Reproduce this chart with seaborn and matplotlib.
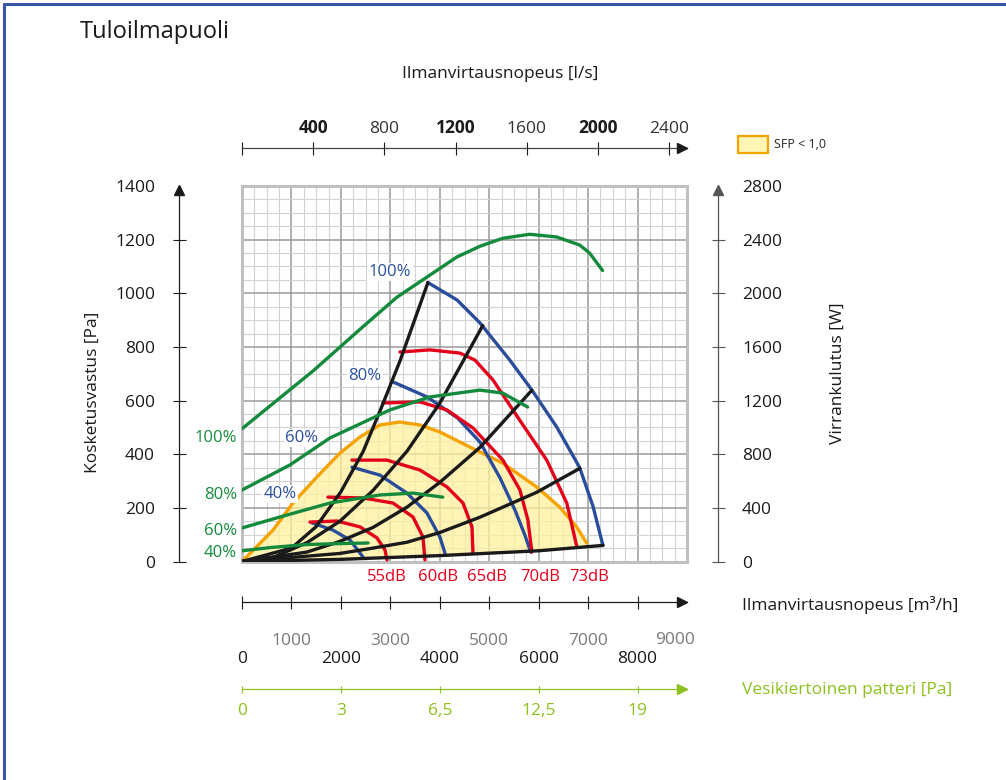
import numpy as np
import matplotlib
matplotlib.use("Agg")
import matplotlib.pyplot as plt
import seaborn as sns
from matplotlib.lines import Line2D
from matplotlib.patches import Patch, Rectangle
from matplotlib.ticker import MultipleLocator

sns.set_theme(style="white")
plt.rcParams["font.family"] = ["Open Sans", "DejaVu Sans"]

# ---- values (airflow m3/h, pressure Pa, power W) ----
# system curves (black)
sys1_x = [0, 1000, 1500, 2000, 2450, 2800, 3200, 3760]
sys1_y = [0, 50, 130, 260, 410, 565, 750, 1040]
sys2_x = [0, 630, 1310, 1980, 2650, 3340, 4000, 4870]
sys2_y = [0, 15, 70, 150, 265, 412, 590, 880]
sys3_x = [0, 1310, 1980, 2650, 3340, 4000, 4810, 5860]
sys3_y = [0, 35, 75, 127, 203, 295, 425, 638]
sys4_x = [0, 1980, 2650, 3340, 4000, 4810, 5960, 6830]
sys4_y = [0, 30, 50, 72, 108, 165, 258, 347]
sys5_x = [0, 2000, 4000, 6000, 7300]
sys5_y = [0, 8, 22, 40, 60]

# fan speed curves (blue), pressure
fan100_x = [3760, 4350, 4810, 5420, 5860, 6370, 6830, 7100, 7300]
fan100_y = [1040, 975, 890, 750, 640, 500, 350, 205, 60]
fan80_x = [3060, 3750, 4360, 4810, 5220, 5520, 5720, 5840]
fan80_y = [669, 613, 535, 446, 311, 192, 99, 35]
fan60_x = [2224, 2790, 3336, 3740, 4003, 4104]
fan60_y = [352, 322, 255, 181, 91, 32]
fan40_x = [1415, 1840, 2184, 2447]
fan40_y = [144, 117, 80, 17]

# sound level curves (red), pressure
db55_x = [1375, 1921, 2386, 2730, 2892, 2932]
db55_y = [147, 151, 129, 88, 43, 6]
db60_x = [1739, 2447, 3053, 3458, 3660, 3700]
db60_y = [240, 237, 218, 166, 91, 6]
db65_x = [2224, 2932, 3599, 4145, 4469, 4651, 4671]
db65_y = [378, 378, 341, 278, 218, 129, 32]
db70_x = [2851, 3599, 4145, 4671, 5277, 5620, 5782, 5863]
db70_y = [591, 595, 565, 498, 378, 267, 155, 35]
db73_x = [3195, 3801, 4407, 4711, 5075, 5620, 6166, 6570, 6773]
db73_y = [781, 789, 777, 751, 677, 526, 377, 217, 54]

# power consumption (green), W
pw100_x = [0, 1434, 2444, 3131, 3737, 4343, 4808, 5272, 5818, 6363, 6828, 7030, 7292]
pw100_y = [990, 1420, 1750, 1970, 2120, 2270, 2350, 2410, 2440, 2420, 2360, 2300, 2170]
pw80_x = [0, 970, 1778, 2990, 3798, 4808, 5272, 5777]
pw80_y = [533, 720, 921, 1130, 1227, 1278, 1256, 1152]
pw60_x = [0, 768, 1778, 2788, 3454, 4060]
pw60_y = [250, 332, 436, 496, 510, 480]
pw40_x = [0, 600, 1300, 2000, 2550]
pw40_y = [80, 105, 126, 134, 138]

# SFP < 1,0 boundary (orange)
sfp_x = [0, 626, 1030, 1515, 1980, 2384, 2788, 3192, 3596, 4000, 4606, 5272, 5959, 6424, 6767, 6969]
sfp_y = [0, 117, 218, 315, 404, 464, 509, 520, 509, 483, 427, 367, 278, 203, 129, 69]

press_ticks = [0, 200, 400, 600, 800, 1000, 1200, 1400]
power_ticks = [0, 400, 800, 1200, 1600, 2000, 2400, 2800]
flow_ticks = [0, 1000, 2000, 3000, 4000, 5000, 6000, 7000, 8000]
ls_ticks = [0, 400, 800, 1200, 1600, 2000, 2400]
ls_labels = ["", "400", "800", "1200", "1600", "2000", "2400"]
water_pos = [0, 2000, 4000, 6000, 8000]
water_labels = ["0", "3", "6,5", "12,5", "19"]

GREEN = "#138a3c"
BLUE = "#2a4d9b"
RED = "#e3001b"
ORANGE = "#f5a300"
BLACK = "#1a1a1a"
LIME = "#8cc11f"

W, H = 1006, 780
fx = lambda px: px / W
fy = lambda py: 1 - py / H
L, R, T, B = 242, 687, 186, 561.5
PT = 0.72  # points per pixel at dpi 100

fig = plt.figure(figsize=(10.06, 7.8), dpi=100)
ax = fig.add_axes([fx(L), fy(B), (R - L) / W, (B - T) / H])
ax.set_xlim(0, 9000)
ax.set_ylim(0, 1400)
ax2 = ax.twinx()
ax2.set_ylim(0, 2800)

# grid
ax.set_xticks(flow_ticks, labels=[str(v) for v in flow_ticks])
ax.set_yticks(press_ticks, labels=[str(v) for v in press_ticks])
ax.xaxis.set_minor_locator(MultipleLocator(250))
ax.yaxis.set_minor_locator(MultipleLocator(50))
ax.set_axisbelow(True)
ax.grid(which="minor", color="#d2d2d2", lw=0.8)
ax.grid(which="major", color="#9a9a9a", lw=1.1)
ax.add_patch(Rectangle((0, 0), 1, 1, transform=ax.transAxes, fill=False,
                       ec="#c0c0c0", lw=2.2, clip_on=False, zorder=1.5))

for s in ["top", "right"]:
    ax.spines[s].set_visible(False)
ax.spines["left"].set_position(("outward", 63 * PT))
ax.spines["bottom"].set_position(("outward", 40.5 * PT))
for s in ["left", "bottom"]:
    ax.spines[s].set_color(BLACK)
    ax.spines[s].set_linewidth(0.9)

ax.tick_params(which="major", direction="inout", length=13 * PT, width=0.8,
               labelsize=12.5, color=BLACK, labelcolor=BLACK,
               left=True, bottom=True)
ax.tick_params(axis="y", which="major", pad=12.6)
ax.tick_params(which="minor", length=0)
ax.yaxis.get_major_ticks()[-1].tick1line.set_visible(False)
for i, (t, lab) in enumerate(zip(ax.xaxis.get_major_ticks(), ax.get_xticklabels())):
    if i % 2:
        t.set_pad(17.6)
        lab.set_color("#7a7a7a")
    else:
        t.set_pad(30.6)
ax.text(8760, -293, "9000", color="#7a7a7a", fontsize=12.5, ha="center",
        va="center", clip_on=False)

# right axis (power)
for s in ["left", "top", "bottom"]:
    ax2.spines[s].set_visible(False)
ax2.spines["right"].set_position(("outward", 31 * PT))
ax2.spines["right"].set_color("#555555")
ax2.spines["right"].set_linewidth(0.9)
ax2.set_yticks(power_ticks, labels=[str(v) for v in power_ticks])
ax2.tick_params(axis="y", right=True, direction="inout", length=13 * PT, width=0.8,
                pad=12.6, labelsize=12.5, color="#555555", labelcolor=BLACK)
ax2.yaxis.get_major_ticks()[-1].tick2line.set_visible(False)
ax2.grid(False)

# top axis (l/s)
top = ax.secondary_xaxis(1 + 38 / (B - T), functions=(lambda x: x / 3.6, lambda x: x * 3.6))
top.set_xticks(ls_ticks, labels=ls_labels)
top.tick_params(top=True, labeltop=True, bottom=False, labelbottom=False,
                direction="inout", length=13 * PT, width=0.8, pad=3.5,
                labelsize=12.5, color=BLACK, labelcolor="#333333")
top.spines["top"].set_color("#444444")
top.spines["top"].set_linewidth(0.9)
for lab in top.get_xticklabels():
    if lab.get_text() in ("400", "1200", "2000"):
        lab.set_fontweight("bold")
        lab.set_color(BLACK)

# water coil axis (green)
wat = ax.secondary_xaxis(-(689 - B) / (B - T))
wat.set_xticks(water_pos, labels=water_labels)
wat.tick_params(bottom=True, labelbottom=True, top=False, labeltop=False,
                direction="inout", length=7 * PT, width=0.8, pad=7.5,
                labelsize=12.5, color=LIME, labelcolor=LIME)
wat.spines["bottom"].set_color(LIME)
wat.spines["bottom"].set_linewidth(0.9)

# SFP area
ax.fill_between(sfp_x, np.interp(sfp_x, sys5_x, sys5_y), sfp_y,
                color="#fff19e", alpha=0.75, lw=0, zorder=1)

lw = 2.4
kw = dict(sort=False, estimator=None, legend=False)
for xs, ys in [(sys1_x, sys1_y), (sys2_x, sys2_y), (sys3_x, sys3_y),
               (sys4_x, sys4_y), (sys5_x, sys5_y)]:
    sns.lineplot(x=xs, y=ys, ax=ax, color=BLACK, lw=lw, zorder=3, **kw)
for xs, ys in [(fan100_x, fan100_y), (fan80_x, fan80_y), (fan60_x, fan60_y), (fan40_x, fan40_y)]:
    sns.lineplot(x=xs, y=ys, ax=ax, color=BLUE, lw=lw, zorder=2.5, **kw)
for xs, ys in [(db55_x, db55_y), (db60_x, db60_y), (db65_x, db65_y),
               (db70_x, db70_y), (db73_x, db73_y)]:
    sns.lineplot(x=xs, y=ys, ax=ax, color=RED, lw=lw, zorder=2.6, **kw)
sns.lineplot(x=sfp_x, y=sfp_y, ax=ax, color=ORANGE, lw=lw, zorder=2.4, **kw)
for xs, ys in [(pw100_x, pw100_y), (pw80_x, pw80_y), (pw60_x, pw60_y), (pw40_x, pw40_y)]:
    sns.lineplot(x=xs, y=ys, ax=ax2, color=GREEN, lw=lw, **kw)
for line in ax.lines + ax2.lines:
    line.set_solid_joinstyle("round")
    line.set_solid_capstyle("round")
ax.set_xlim(0, 9000)
ax.set_ylim(0, 1400)
ax2.set_ylim(0, 2800)
ax.set_xlabel("")
ax.set_ylabel("")
ax2.set_ylabel("")

# curve labels
box = dict(boxstyle="square,pad=0.08", fc="white", ec="none")
for x, y, s in [(2993, 1079, "100%"), (2487, 692, "80%"), (1213, 460, "60%"), (768, 252, "40%")]:
    ax.text(x, y, s, color=BLUE, fontsize=12, ha="center", va="center", bbox=box, zorder=4)
for y, s in [(460, "100%"), (248, "80%"), (114, "60%"), (32, "40%")]:
    ax.text(-100, y, s, color=GREEN, fontsize=12, ha="right", va="center", clip_on=False)
for x, s in [(2932, "55dB"), (3963, "60dB"), (4954, "65dB"), (6026, "70dB"), (7016, "73dB")]:
    ax.text(x, -58, s, color=RED, fontsize=12, ha="center", va="center", clip_on=False)

# axis titles
fig.text(fx(80), fy(32), "Tuloilmapuoli", fontsize=17, color=BLACK, va="center")
fig.text(fx(500), fy(74), "Ilmanvirtausnopeus [l/s]", fontsize=12.5, color=BLACK, ha="center", va="center")
fig.text(fx(93), fy(392), "Kosketusvastus [Pa]", fontsize=12.5, color=BLACK, rotation=90, ha="center", va="center")
fig.text(fx(838), fy(373), "Virrankulutus [W]", fontsize=12.5, color=BLACK, rotation=90, ha="center", va="center")
fig.text(fx(742), fy(605), "Ilmanvirtausnopeus [m³/h]", fontsize=12.5, color=BLACK, va="center")
fig.text(fx(742), fy(690), "Vesikiertoinen patteri [Pa]", fontsize=12.5, color=LIME, va="center")

# legend
fig.legend(handles=[Patch(fc="#fff5b5", ec=ORANGE, lw=1.6, label="SFP < 1,0")],
           loc="upper left", bbox_to_anchor=(fx(738), fy(136)), frameon=False,
           fontsize=9, handlelength=2.4, handleheight=1.7, handletextpad=0.5,
           borderpad=0, borderaxespad=0)

# arrow heads on axis lines
for px, py, m, c in [(179, 190, "^", BLACK), (718, 190, "^", "#555555"),
                     (682, 148, ">", BLACK), (682, 602, ">", BLACK), (682, 689, ">", LIME)]:
    fig.add_artist(Line2D([fx(px)], [fy(py)], marker=m, ms=7, color=c, lw=0,
                          transform=fig.transFigure))

# page frame
fig.add_artist(Line2D([fx(4), fx(4)], [0, fy(4)], color="#3a55a5", lw=2.2, transform=fig.transFigure))
fig.add_artist(Line2D([fx(4), 1], [fy(4), fy(4)], color="#3a55a5", lw=2.2, transform=fig.transFigure))

fig.savefig("out.png", dpi=100)
